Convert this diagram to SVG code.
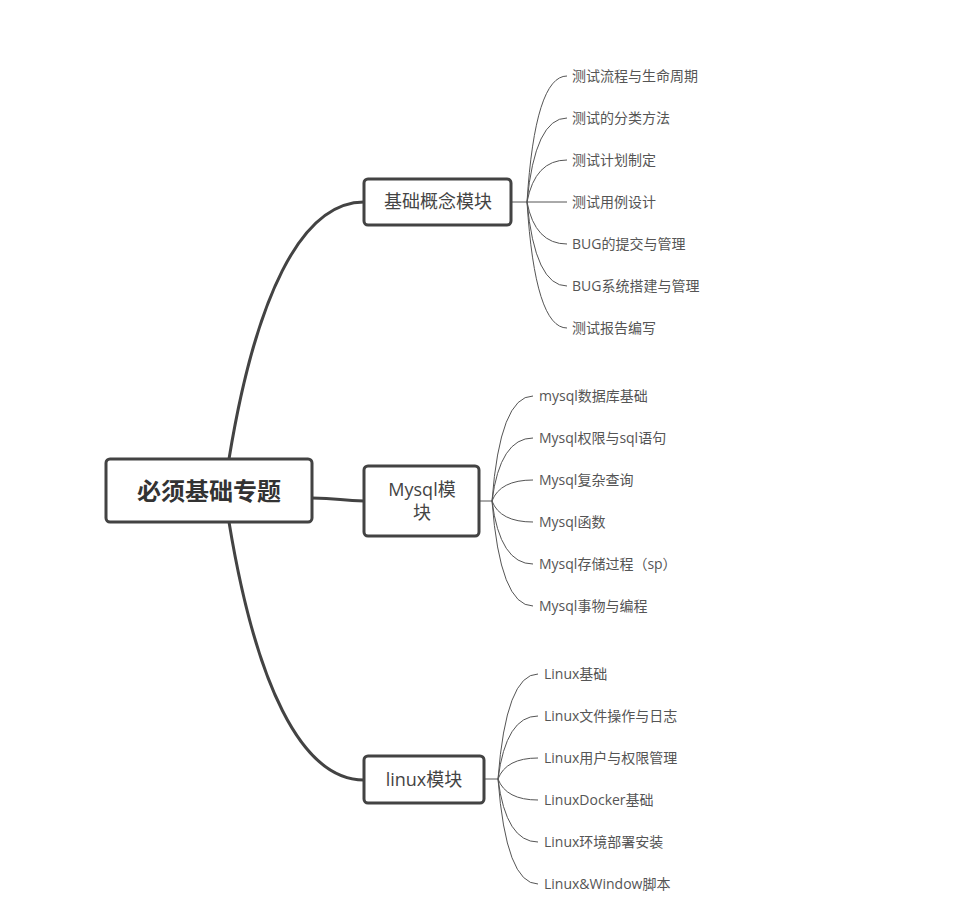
<svg xmlns="http://www.w3.org/2000/svg" width="958" height="918" viewBox="0 0 958 918">
<style>
.box{fill:#fff;stroke:#434343;stroke-width:3}
.main{fill:none;stroke:#434343;stroke-width:3;stroke-linecap:round}
.sub{fill:none;stroke:#555;stroke-width:1}
text{font-family:"Open Sans","Noto Sans CJK SC",sans-serif;dominant-baseline:central}
.rt{font-size:24px;font-weight:bold;fill:#333;text-anchor:middle}
.nt{font-size:18px;fill:#444;text-anchor:middle}
.ct{font-size:14px;fill:#555}
</style>
<rect width="958" height="918" fill="#fff"/>
<g id="connectors">
<path class="main" d="M229,459 C255,300 300,202 364,202"/>
<path class="main" d="M229,522 C255,680 300,780 364,780"/>
<path class="main" d="M312,498 C340,498 340,501 364,501"/>
<path class="sub" d="M511,202 H527"/>
<path class="sub" d="M527,202 Q535,76 567,76"/>
<path class="sub" d="M527,202 Q535,118 567,118"/>
<path class="sub" d="M527,202 Q535,160 567,160"/>
<path class="sub" d="M527,202 H567"/>
<path class="sub" d="M527,202 Q535,244 567,244"/>
<path class="sub" d="M527,202 Q535,286 567,286"/>
<path class="sub" d="M527,202 Q535,328 567,328"/>
<path class="sub" d="M479,501 H492"/>
<path class="sub" d="M492,501 Q500,396 533,396"/>
<path class="sub" d="M492,501 Q500,438 533,438"/>
<path class="sub" d="M492,501 Q500,480 533,480"/>
<path class="sub" d="M492,501 Q500,522 533,522"/>
<path class="sub" d="M492,501 Q500,564 533,564"/>
<path class="sub" d="M492,501 Q500,606 533,606"/>
<path class="sub" d="M484,779 H498"/>
<path class="sub" d="M498,779 Q506,674 538,674"/>
<path class="sub" d="M498,779 Q506,716 538,716"/>
<path class="sub" d="M498,779 Q506,758 538,758"/>
<path class="sub" d="M498,779 Q506,800 538,800"/>
<path class="sub" d="M498,779 Q506,842 538,842"/>
<path class="sub" d="M498,779 Q506,884 538,884"/>
</g>
<g id="root">
<rect class="box" x="106" y="459" width="206" height="63" rx="4"/>
<text class="rt" x="209" y="490">必须基础专题</text>
</g>
<g id="n1">
<rect class="box" x="364" y="179" width="147" height="46" rx="4"/>
<text class="nt" x="438" y="201">基础概念模块</text>
</g>
<g id="n2">
<rect class="box" x="364" y="466" width="115" height="70" rx="4"/>
<text class="nt" x="422" y="489">Mysql模</text>
<text class="nt" x="422" y="512">块</text>
</g>
<g id="n3">
<rect class="box" x="364" y="756" width="120" height="47" rx="4"/>
<text class="nt" x="424" y="779">linux模块</text>
</g>
<g id="c1">
<text class="ct" x="572" y="75">测试流程与生命周期</text>
<text class="ct" x="572" y="117">测试的分类方法</text>
<text class="ct" x="572" y="159">测试计划制定</text>
<text class="ct" x="572" y="201">测试用例设计</text>
<text class="ct" x="572" y="243">BUG的提交与管理</text>
<text class="ct" x="572" y="285">BUG系统搭建与管理</text>
<text class="ct" x="572" y="327">测试报告编写</text>
</g>
<g id="c2">
<text class="ct" x="539" y="395">mysql数据库基础</text>
<text class="ct" x="539" y="437">Mysql权限与sql语句</text>
<text class="ct" x="539" y="479">Mysql复杂查询</text>
<text class="ct" x="539" y="521">Mysql函数</text>
<text class="ct" x="539" y="563">Mysql存储过程（sp）</text>
<text class="ct" x="539" y="605">Mysql事物与编程</text>
</g>
<g id="c3">
<text class="ct" x="544" y="673">Linux基础</text>
<text class="ct" x="544" y="715">Linux文件操作与日志</text>
<text class="ct" x="544" y="757">Linux用户与权限管理</text>
<text class="ct" x="544" y="799">LinuxDocker基础</text>
<text class="ct" x="544" y="841">Linux环境部署安装</text>
<text class="ct" x="544" y="883">Linux&amp;Window脚本</text>
</g>
</svg>
